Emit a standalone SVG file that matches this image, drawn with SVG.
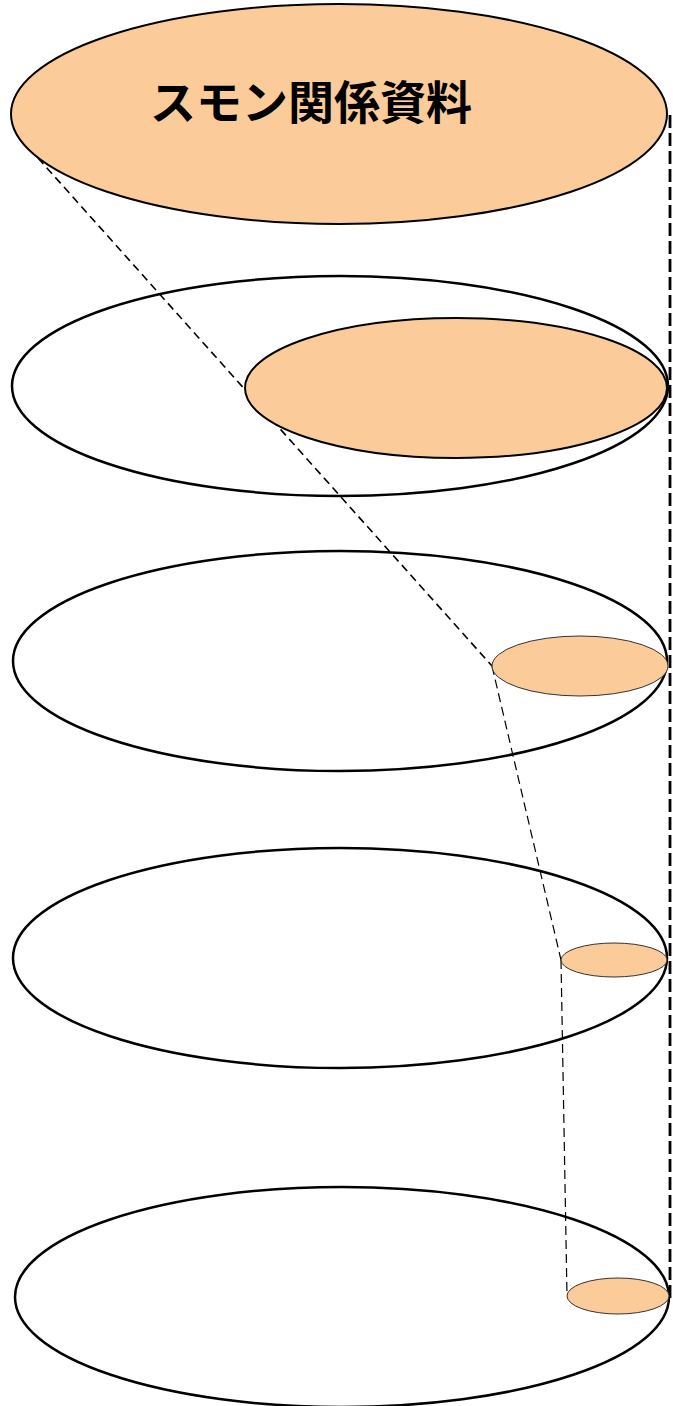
<svg xmlns="http://www.w3.org/2000/svg" width="673" height="1406" viewBox="0 0 673 1406">
<style>
.big{fill:none;stroke:#000;stroke-width:2.5}
.fill{fill:#FBCC99}
.mid{stroke:#000;stroke-width:2}
.sm{stroke:#333;stroke-width:1}
.d1{fill:none;stroke:#000;stroke-width:1.6;stroke-dasharray:8 5}
.d2{fill:none;stroke:#000;stroke-width:1.2;stroke-dasharray:9 5}
.dr{fill:none;stroke:#000;stroke-width:2.8;stroke-dasharray:13 5}
.t{font-family:"Noto Sans CJK JP",sans-serif;font-weight:bold;font-size:46px;fill:#000}
</style>
<rect width="673" height="1406" fill="#fff"/>
<g id="connectors">
<path d="M38 158 L492 666" class="d1"/>
<path d="M492 666 L561 960" class="d2"/>
<path d="M561 960 L567 1296" class="d2"/>
<path d="M670 115 L670 1300" class="dr"/>
</g>
<g id="level1">
<ellipse cx="339" cy="114" rx="328" ry="110" class="fill mid"/>
<text x="311" y="119" text-anchor="middle" class="t">スモン関係資料</text>
</g>
<g id="level2">
<ellipse cx="340" cy="386" rx="328" ry="110" class="big"/>
<ellipse cx="456" cy="388" rx="211" ry="70" class="fill mid"/>
</g>
<g id="level3">
<ellipse cx="340" cy="661" rx="327" ry="110" class="big"/>
<ellipse cx="580" cy="666" rx="88" ry="30" class="fill sm"/>
</g>
<g id="level4">
<ellipse cx="340" cy="958" rx="327" ry="110" class="big"/>
<ellipse cx="614" cy="960" rx="53" ry="17" class="fill sm"/>
</g>
<g id="level5">
<ellipse cx="342" cy="1297" rx="327" ry="110" class="big"/>
<ellipse cx="618" cy="1296" rx="51" ry="18" class="fill sm"/>
</g>
</svg>
